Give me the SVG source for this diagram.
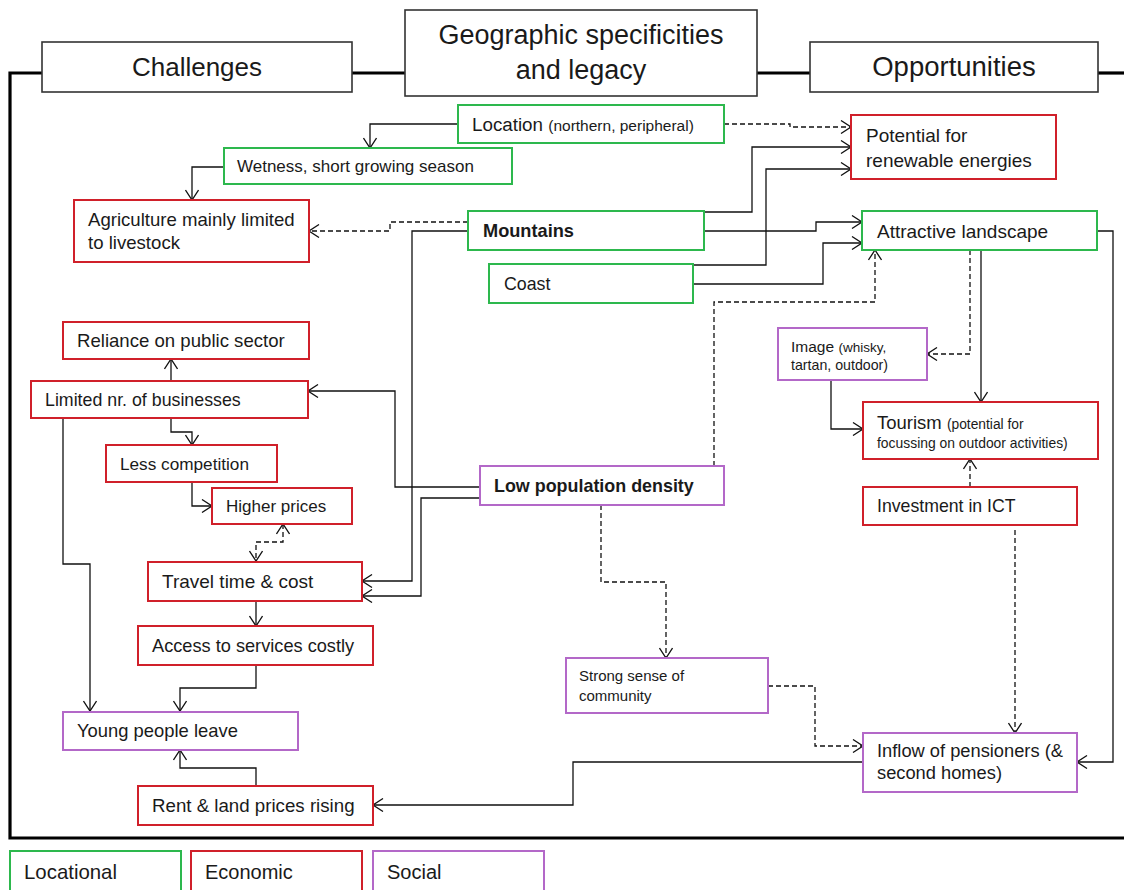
<svg xmlns="http://www.w3.org/2000/svg" width="1124" height="890" viewBox="0 0 1124 890">
<defs>
<marker id="arr" markerUnits="userSpaceOnUse" markerWidth="14" markerHeight="14" refX="11" refY="7" orient="auto-start-reverse">
<path d="M1,0.5 L11,7 L1,13.5" fill="none" stroke="#111" stroke-width="1.3"/>
</marker>
<style>
text{font-family:"Liberation Sans",Arial,sans-serif;fill:#1a1a1a;}
.hdr{fill:#fff;stroke:#333;stroke-width:1.6;}
.loc{fill:#fff;stroke:#2db84d;stroke-width:2;}
.eco{fill:#fff;stroke:#d0202a;stroke-width:2;}
.soc{fill:#fff;stroke:#b368c8;stroke-width:2;}
.c{fill:none;stroke:#111;stroke-width:1.3;marker-end:url(#arr);}
.d{fill:none;stroke:#111;stroke-width:1.3;stroke-dasharray:5 3;marker-end:url(#arr);}
.frame{fill:none;stroke:#000;stroke-width:3.2;}
</style>
</defs>
<rect width="1124" height="890" fill="#fff"/>

<g id="frame">
<path class="frame" d="M42,73 H10 V838 H1124"/>
<path class="frame" d="M352,73 H405"/>
<path class="frame" d="M757,73 H810"/>
<path class="frame" d="M1098,73 H1124"/>
</g>

<g id="connectors">
<path class="c" d="M458,124 H370 V148"/>
<path class="c" d="M224,167 H192 V200"/>
<path class="c" d="M468,231 H412 V581 H362"/>
<path class="c" d="M704,212 H752 V147 H851"/>
<path class="c" d="M693,265 H766 V169 H851"/>
<path class="c" d="M704,231 H816 V222 H862"/>
<path class="c" d="M693,284 H823 V243 H862"/>
<path class="c" d="M981,250 V402"/>
<path class="c" d="M831,380 V429 H863"/>
<path class="c" d="M1097,231 H1113 V762 H1077"/>
<path class="c" d="M863,762 H573 V805 H373"/>
<path class="c" d="M480,487 H395 V391 H308"/>
<path class="c" d="M480,498 H421 V596 H362"/>
<path class="c" d="M171,381 V359"/>
<path class="c" d="M171,418 V432 H192 V445"/>
<path class="c" d="M192,481 V506 H212"/>
<path class="c" d="M63,418 V564 H90 V711"/>
<path class="c" d="M256,601 V626"/>
<path class="c" d="M256,665 V688 H180 V711"/>
<path class="c" d="M256,786 V768 H180 V750"/>
<path class="d" d="M724,124 H790 V127 H851"/>
<path class="d" d="M468,222 H390 V231 H309"/>
<path class="d" d="M714,466 V302 H875 V250"/>
<path class="d" d="M970,250 V354 H927"/>
<path class="d" d="M970,487 V459"/>
<path class="d" d="M283,524 V542 H256 V561" style="marker-start:url(#arr)"/>
<path class="d" d="M601,505 V582 H666 V658"/>
<path class="d" d="M768,686 H815 V746 H863"/>
<path class="d" d="M1015,530 V733"/>
</g>

<g id="h-challenges"><rect class="hdr" x="42" y="42" width="310" height="50"/><text x="197" y="76" font-size="26" text-anchor="middle">Challenges</text></g>
<g id="h-geo"><rect class="hdr" x="405" y="10" width="352" height="86"/><text x="581" y="44" font-size="27" text-anchor="middle">Geographic specificities</text><text x="581" y="79" font-size="27" text-anchor="middle">and legacy</text></g>
<g id="h-opp"><rect class="hdr" x="810" y="42" width="288" height="50"/><text x="954" y="76" font-size="27.5" text-anchor="middle">Opportunities</text></g>

<g id="n-location"><rect class="loc" x="458" y="105" width="266" height="38"/><text x="472" y="130.5" font-size="18.8">Location <tspan font-size="15.5">(northern, peripheral)</tspan></text></g>
<g id="n-wetness"><rect class="loc" x="224" y="148" width="288" height="36"/><text x="237" y="172" font-size="17">Wetness, short growing season</text></g>
<g id="n-agri"><rect class="eco" x="74" y="200" width="235" height="62"/><text x="88" y="226" font-size="18.6">Agriculture mainly limited</text><text x="88" y="249" font-size="18.6">to livestock</text></g>
<g id="n-mountains"><rect class="loc" x="468" y="211" width="236" height="39"/><text x="483" y="237" font-size="18.2" font-weight="bold">Mountains</text></g>
<g id="n-coast"><rect class="loc" x="489" y="264" width="204" height="39"/><text x="504" y="290" font-size="17.8">Coast</text></g>
<g id="n-potential"><rect class="eco" x="851" y="115" width="205" height="64"/><text x="866" y="142" font-size="19">Potential for</text><text x="866" y="167" font-size="19">renewable energies</text></g>
<g id="n-attractive"><rect class="loc" x="862" y="211" width="235" height="39"/><text x="877" y="237.5" font-size="19">Attractive landscape</text></g>
<g id="n-image"><rect class="soc" x="778" y="328" width="149" height="52"/><text x="791" y="352" font-size="15.5">Image <tspan font-size="13.5">(whisky,</tspan></text><text x="791" y="370" font-size="14.2">tartan, outdoor)</text></g>
<g id="n-tourism"><rect class="eco" x="863" y="402" width="235" height="57"/><text x="877" y="429" font-size="18.5">Tourism <tspan font-size="13.8">(potential for</tspan></text><text x="877" y="448" font-size="13.9">focussing on outdoor activities)</text></g>
<g id="n-ict"><rect class="eco" x="863" y="487" width="214" height="38"/><text x="877" y="512" font-size="17.7">Investment in ICT</text></g>
<g id="n-reliance"><rect class="eco" x="63" y="322" width="246" height="37"/><text x="77" y="347" font-size="18.6">Reliance on public sector</text></g>
<g id="n-limited"><rect class="eco" x="31" y="381" width="277" height="37"/><text x="45" y="406" font-size="17.8">Limited nr. of businesses</text></g>
<g id="n-less"><rect class="eco" x="106" y="445" width="171" height="37"/><text x="120" y="469.5" font-size="17.2">Less competition</text></g>
<g id="n-higher"><rect class="eco" x="212" y="488" width="140" height="36"/><text x="226" y="512" font-size="17">Higher prices</text></g>
<g id="n-lowpop"><rect class="soc" x="480" y="466" width="244" height="39"/><text x="494" y="492" font-size="17.9" font-weight="bold">Low population density</text></g>
<g id="n-travel"><rect class="eco" x="148" y="562" width="214" height="39"/><text x="162" y="588" font-size="19">Travel time &amp; cost</text></g>
<g id="n-access"><rect class="eco" x="138" y="626" width="235" height="39"/><text x="152" y="652" font-size="18.2">Access to services costly</text></g>
<g id="n-young"><rect class="soc" x="63" y="712" width="235" height="38"/><text x="77" y="737" font-size="18.4">Young people leave</text></g>
<g id="n-rent"><rect class="eco" x="138" y="786" width="235" height="39"/><text x="152" y="812" font-size="18.7">Rent &amp; land prices rising</text></g>
<g id="n-community"><rect class="soc" x="566" y="658" width="202" height="55"/><text x="579" y="681" font-size="15">Strong sense of</text><text x="579" y="701" font-size="15">community</text></g>
<g id="n-inflow"><rect class="soc" x="863" y="733" width="214" height="59"/><text x="877" y="757" font-size="18.3">Inflow of pensioners (&amp;</text><text x="877" y="779" font-size="18.3">second homes)</text></g>

<g id="legend-locational"><rect class="loc" x="10" y="851" width="171" height="50"/><text x="24" y="879" font-size="20.4">Locational</text></g>
<g id="legend-economic"><rect class="eco" x="191" y="851" width="171" height="50"/><text x="205" y="879" font-size="20">Economic</text></g>
<g id="legend-social"><rect class="soc" x="373" y="851" width="171" height="50"/><text x="387" y="879" font-size="20">Social</text></g>
</svg>
